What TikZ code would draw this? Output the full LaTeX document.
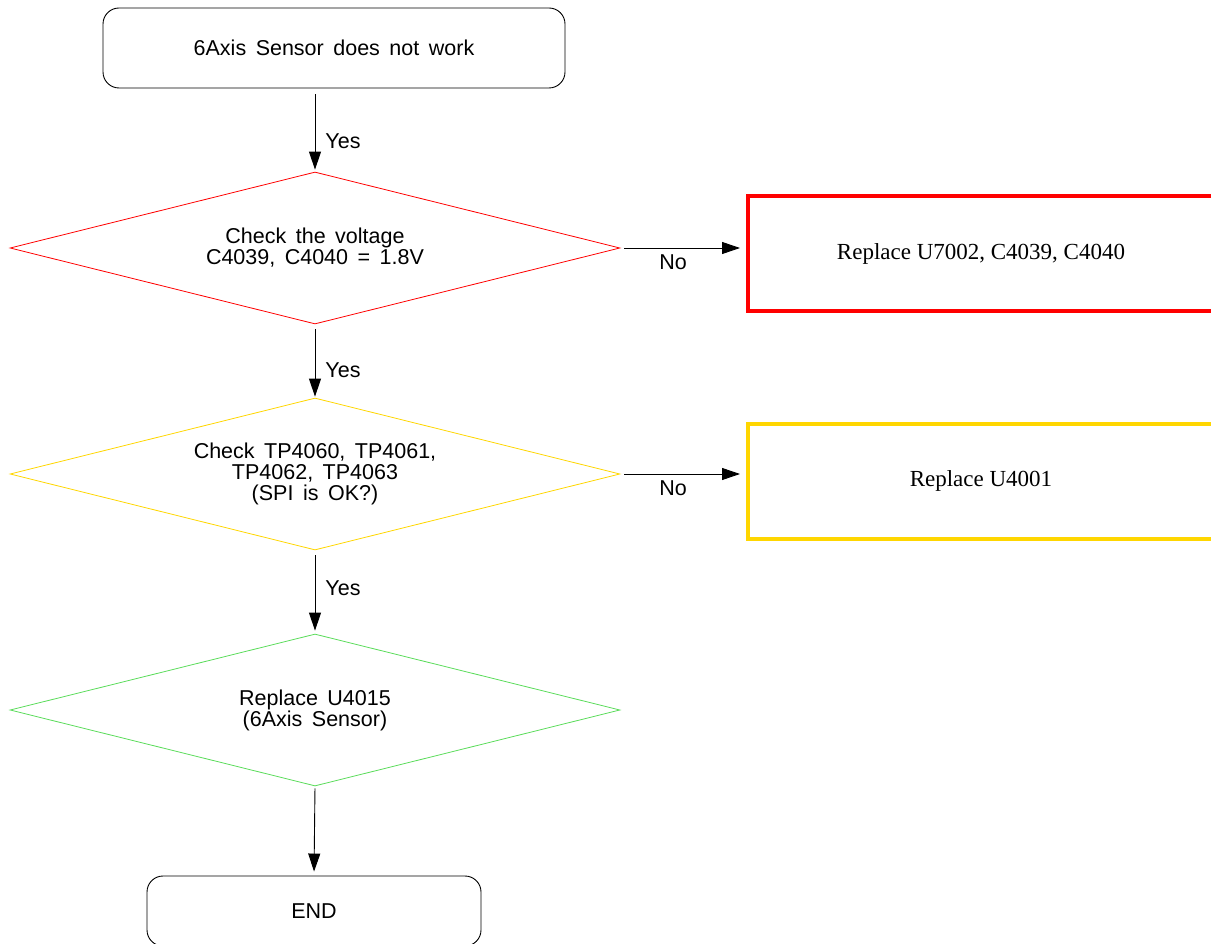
\documentclass[tikz,border=0pt]{standalone}
\usepackage{fontspec}
\setmainfont{Liberation Sans}
\newfontfamily\boxserif{Liberation Serif}
\usetikzlibrary{shapes.geometric,arrows.meta}
\definecolor{myred}{RGB}{255,0,0}
\definecolor{mygold}{RGB}{255,214,0}
\definecolor{mygreen}{RGB}{90,220,90}
\tikzset{
  txt/.style={font=\fontsize{21.5}{21}\selectfont, align=center, execute at begin node={\spaceskip=9.5pt\relax}},
  roundbox/.style={draw=black, line width=0.9pt, rounded corners=16pt, minimum width=462pt, inner sep=0pt, txt},
  decision/.style={diamond, draw, line width=0.8pt, minimum width=610pt, minimum height=152pt, inner sep=0pt, aspect=4, txt},
  actbox/.style={draw, line width=4pt, minimum width=466pt, minimum height=115pt, inner sep=0pt, font=\boxserif\fontsize{23}{24}\selectfont},
  flow/.style={-{Triangle[length=18pt,width=12pt]}, line width=0.9pt, black},
  lbl/.style={txt, inner sep=1pt}
}
\begin{document}
\begin{tikzpicture}[x=1pt,y=-1pt]
\useasboundingbox (0,0) rectangle (1211,944);
\node[roundbox, minimum height=80pt] (start) at (334,48) {6Axis Sensor does not work};
\node[decision, draw=myred] (d1) at (315,248) {Check the voltage\\C4039, C4040 = 1.8V};
\node[decision, draw=mygold] (d2) at (315,474) {Check TP4060, TP4061,\\TP4062, TP4063\\(SPI is OK?)};
\node[decision, draw=mygreen] (d3) at (315,710) {Replace U4015\\(6Axis Sensor)};
\node[roundbox, minimum width=334pt, minimum height=70pt] (endb) at (314,911) {END};
\node[actbox, draw=myred] (r1) at (981,254) {Replace U7002, C4039, C4040};
\node[actbox, draw=mygold] (r2) at (981,481) {Replace U4001};

\draw[flow, shorten <=6pt, shorten >=2pt] (d1.north |- start.south) -- node[lbl, pos=0.63, right=9pt] {Yes} (d1.north);
\draw[flow, shorten <=5pt, shorten >=1pt] (d1.south) -- node[lbl, pos=0.62, right=9pt] {Yes} (d2.north);
\draw[flow, shorten <=5pt, shorten >=3pt] (d2.south) -- node[lbl, pos=0.46, right=9pt] {Yes} (d3.north);
\draw[flow, shorten <=2pt, shorten >=4pt] (d3.south) -- (endb.north);
\draw[flow, shorten <=4pt, shorten >=6pt] (d1.east) -- node[lbl, pos=0.42, below=5pt] {No} (d1.east -| r1.west);
\draw[flow, shorten <=4pt, shorten >=6pt] (d2.east) -- node[lbl, pos=0.42, below=5pt] {No} (d2.east -| r2.west);
\end{tikzpicture}
\end{document}
